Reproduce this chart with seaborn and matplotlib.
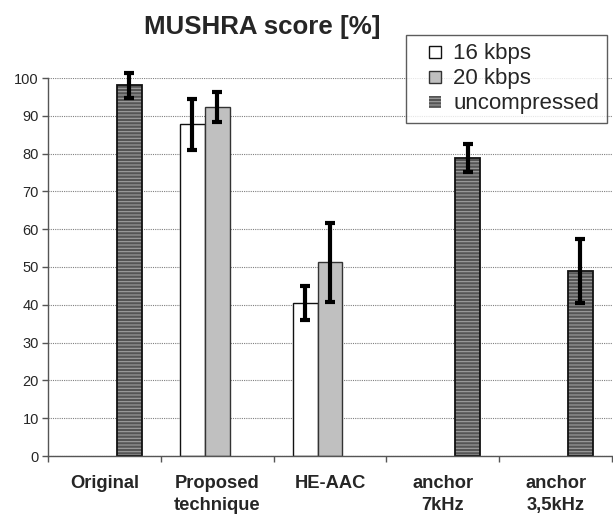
import numpy as np
import pandas as pd
import matplotlib
matplotlib.use("Agg")
import matplotlib.pyplot as plt
from matplotlib.patches import Patch, Rectangle
from matplotlib.legend_handler import HandlerPatch
import seaborn as sns

categories = ["Original", "Proposed\ntechnique", "HE-AAC", "anchor\n7kHz", "anchor\n3,5kHz"]
series = ["16 kbps", "20 kbps", "uncompressed"]
mean_16 = [np.nan, 87.7, 40.4, np.nan, np.nan]
mean_20 = [np.nan, 92.4, 51.2, np.nan, np.nan]
mean_unc = [98.1, np.nan, np.nan, 78.8, 48.9]
err_16 = [np.nan, 6.7, 4.5, np.nan, np.nan]
err_20 = [np.nan, 4.0, 10.5, np.nan, np.nan]
err_unc = [3.3, np.nan, np.nan, 3.7, 8.4]
yticks = [0, 10, 20, 30, 40, 50, 60, 70, 80, 90, 100]

rows = []
for s, means, errs in zip(series, [mean_16, mean_20, mean_unc], [err_16, err_20, err_unc]):
    for c, m, e in zip(categories, means, errs):
        rows.append({"cat": c, "series": s, "score": m, "err": e})
df = pd.DataFrame(rows)

sns.set_theme(style="white")
plt.rcParams["font.family"] = ["Liberation Sans", "DejaVu Sans"]
plt.rcParams["hatch.linewidth"] = 0.8

fig = plt.figure(figsize=(6.13, 5.15), dpi=100)
ax = fig.add_axes([48 / 613, 59 / 515, 564 / 613, 378 / 515])

palette = {"16 kbps": "white", "20 kbps": "#c0c0c0", "uncompressed": "#555555"}
sns.barplot(data=df.dropna(subset=["score"]), x="cat", y="score", hue="series",
            order=categories, hue_order=series, palette=palette,
            width=0.66, gap=0, errorbar=None, legend=False, ax=ax,
            saturation=1, edgecolor="#111111", linewidth=1.0)

# style bars and add error bars
for s, cont in zip(series, ax.containers):
    sub = df[df["series"] == s].set_index("cat")
    xs, ys, es = [], [], []
    for p in cont.patches:
        cx = p.get_x() + p.get_width() / 2
        ci = int(round(cx))
        row = sub.loc[categories[ci]]
        xs.append(cx)
        ys.append(row["score"])
        es.append(row["err"])
        if s == "uncompressed":
            p.set_facecolor("#555555")
            p.set_edgecolor("#a0a0a0")
            p.set_hatch("-----")
            p.set_linewidth(0)
            ax.add_patch(Rectangle((p.get_x(), p.get_y()), p.get_width(), p.get_height(),
                                   fill=False, edgecolor="#111111", lw=1.3, zorder=p.get_zorder() + 0.1))
        elif s == "20 kbps":
            p.set_edgecolor("#333333")
    ax.errorbar(xs, ys, yerr=es, fmt="none", ecolor="black", elinewidth=3,
                capsize=3.5, capthick=3, clip_on=False, zorder=5)

ax.set_ylim(0, 100)
ax.set_xlim(-0.5, len(categories) - 0.5)
ax.set_yticks(yticks)
ax.set_yticklabels([str(v) for v in yticks], fontsize=10.5)
ax.yaxis.grid(True, color="#808080", linestyle=(0, (1, 1)), linewidth=0.8)
ax.set_axisbelow(True)

ax.set_xticks(np.arange(len(categories) + 1) - 0.5)
ax.set_xticklabels([])
ax.set_xticks(np.arange(len(categories)), minor=True)
ax.set_xticklabels(categories, minor=True, fontsize=13.2, fontweight="bold", linespacing=1.35)
ax.tick_params(axis="x", which="major", direction="out", length=4, width=1, color="#555555", bottom=True)
ax.tick_params(axis="x", which="minor", length=0, pad=14, bottom=True)
ax.tick_params(axis="y", direction="out", length=4, width=1, color="#555555", left=True, pad=2.5)
ax.set_xlabel("")
ax.set_ylabel("")

for side in ["top", "right"]:
    ax.spines[side].set_visible(False)
for side in ["left", "bottom"]:
    ax.spines[side].set_color("#555555")
    ax.spines[side].set_linewidth(1.0)

fig.text(262.5 / 613, 1 - 33.5 / 515, "MUSHRA score [%]", ha="center", va="baseline",
         fontsize=18.6, fontweight="bold")


def square_patch(legend, orig_handle, xdescent, ydescent, width, height, fontsize):
    side = height
    return Rectangle((-xdescent + width - side, -ydescent), side, side)


handles = [
    Patch(facecolor="white", edgecolor="#111111", linewidth=1.0),
    Patch(facecolor="#c0c0c0", edgecolor="#333333", linewidth=1.0),
    Patch(facecolor="#555555", edgecolor="#a0a0a0", hatch="-----", linewidth=0),
]
leg = fig.legend(handles, series, loc="upper left", bbox_to_anchor=(405.7 / 613, 1 - 35 / 515),
                 borderaxespad=0, fontsize=16, frameon=True, fancybox=False,
                 handlelength=1.2, handleheight=0.45, handletextpad=0.55,
                 labelspacing=0.18, borderpad=0.38,
                 handler_map={Patch: HandlerPatch(patch_func=square_patch)})
leg.get_frame().set_edgecolor("#333333")
leg.get_frame().set_linewidth(1.0)
leg.get_frame().set_facecolor("white")

fig.savefig("out.png", dpi=100)
